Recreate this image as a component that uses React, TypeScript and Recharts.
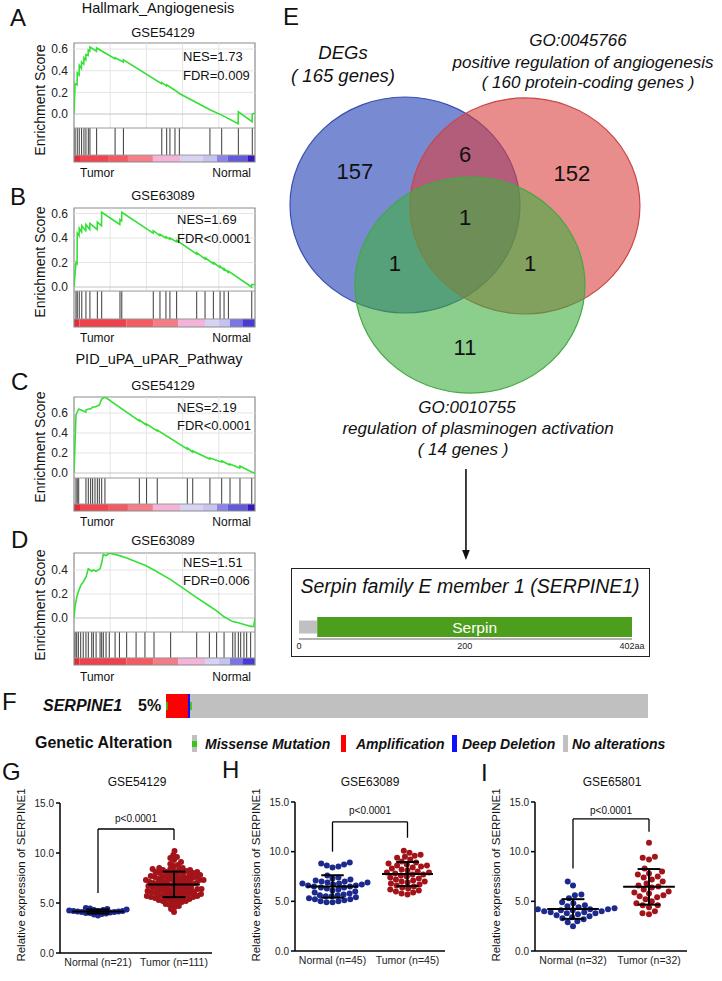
import React from 'react';
import {
  ComposedChart, ScatterChart, Scatter, Line, XAxis, YAxis,
  ReferenceLine, ReferenceArea,
} from 'recharts';

const FONT = '"Liberation Sans", Arial, Helvetica, sans-serif';

// ---------------- GSEA data (rank in % of ranked list, enrichment score) ----------------
const curveA = [[0,0],[0.6,0.28],[1.7,0.27],[1.8,0.38],[2.8,0.36],[2.9,0.45],[4.1,0.42],[4.2,0.48],[5.4,0.46],[5.5,0.52],[6.5,0.50],[6.6,0.55],[7.8,0.54],[7.9,0.59],[8.7,0.58],[8.8,0.62],[12.4,0.58],[12.5,0.61],[22.6,0.51],[22.7,0.52],[27.2,0.48],[27.3,0.50],[48.4,0.28],[48.5,0.29],[51.1,0.26],[51.2,0.27],[53.0,0.25],[55.8,0.22],[58.2,0.19],[75.1,0.04],[81.6,-0.01],[90.7,-0.09],[90.8,0.02],[98.4,-0.07],[98.5,0.0],[100,0.01]];
const hitsA = [0.6,1.8,2.9,4.2,5.5,6.6,7.9,8.8,12.5,22.7,27.3,48.5,51.2,53.0,55.8,58.2,75.1,81.6,90.8,98.5];

const curveB = [[0,0],[1.1,0.20],[1.7,0.19],[1.8,0.44],[2.8,0.42],[2.9,0.48],[4.2,0.45],[4.3,0.50],[6.5,0.46],[6.6,0.51],[8.7,0.47],[8.8,0.52],[12.8,0.47],[12.9,0.53],[15.2,0.50],[15.3,0.61],[25.3,0.51],[25.4,0.55],[26.3,0.54],[26.4,0.61],[43.7,0.44],[43.8,0.46],[47.4,0.42],[47.5,0.43],[50.7,0.40],[50.8,0.41],[52.9,0.39],[53.0,0.40],[56.6,0.37],[56.7,0.38],[67.7,0.27],[67.8,0.28],[72.3,0.23],[72.4,0.24],[76.9,0.19],[77.0,0.20],[80.6,0.16],[80.7,0.17],[82.8,0.14],[82.9,0.15],[85.2,0.12],[85.3,0.13],[98.1,0.0],[98.2,0.02],[100,0.02]];
const hitsB = [1.1,1.8,2.9,4.3,6.6,8.8,12.9,15.3,25.4,26.4,43.8,47.5,50.8,53.0,56.7,67.8,72.4,77.0,80.7,82.9,85.3,98.2];

const curveC = [[0,0],[1.1,0.58],[1.8,0.61],[2.6,0.64],[6.5,0.61],[6.6,0.63],[7.9,0.64],[9.2,0.64],[10.3,0.66],[11.6,0.66],[12.9,0.67],[14.0,0.68],[15.3,0.74],[17.1,0.76],[36.0,0.52],[36.1,0.53],[40.0,0.48],[40.1,0.49],[45.9,0.42],[46.0,0.43],[62.5,0.24],[62.6,0.25],[65.5,0.21],[65.6,0.22],[75.0,0.14],[75.1,0.15],[81.5,0.11],[81.6,0.12],[86.1,0.08],[86.2,0.09],[91.6,0.05],[91.7,0.07],[98.1,0.01],[100,0.0]];
const hitsC = [1.1,1.8,2.6,6.6,7.9,9.2,10.3,11.6,12.9,14.0,15.3,17.1,36.1,40.1,46.0,62.6,65.6,75.1,81.6,86.2,91.7,98.2];

const curveD = [[0,0],[0.6,0.10],[1.5,0.17],[2.4,0.22],[3.7,0.27],[5.1,0.30],[6.6,0.34],[7.9,0.41],[9.8,0.39],[10.7,0.40],[12.2,0.39],[14.4,0.41],[15.3,0.46],[16.2,0.53],[17.7,0.52],[19.5,0.54],[22.7,0.53],[25.1,0.52],[29.1,0.50],[34.3,0.47],[39.2,0.44],[44.2,0.40],[53.4,0.32],[67.8,0.17],[74.8,0.10],[78.8,0.06],[82.9,0.01],[87.7,-0.03],[90.8,-0.04],[95.4,-0.06],[97.6,-0.07],[99.3,-0.07],[100,0.0]];
const hitsD = [0.6,1.5,2.4,3.7,5.1,6.6,7.9,9.8,10.7,12.2,14.4,15.3,16.2,17.7,19.5,22.7,25.1,29.1,34.3,39.2,44.2,53.4,67.8,74.8,78.8,82.9,87.7,89.0,90.8,92.1,93.9,95.4,97.6];

// ranked-list colour bar breaks
const breaks54129 = [0, 3.3, 18.8, 29.8, 43.6, 58.6, 71.3, 79.0, 85.0, 96.1, 100];
const breaks63089 = [0, 3, 29, 44, 57.5, 72.4, 80, 86.2, 93, 100];

const gseaTitles = ['GSE54129', 'GSE63089', 'GSE54129', 'GSE63089'];
const gseaNES = ['NES=1.73', 'NES=1.69', 'NES=2.19', 'NES=1.51'];
const gseaFDR = ['FDR=0.009', 'FDR<0.0001', 'FDR<0.0001', 'FDR=0.006'];
const esTicksABC = [0, 0.2, 0.4, 0.6];
const esTicksD = [0, 0.2, 0.4];

// ---------------- Venn data ----------------
const vennSetNames = ['DEGs', 'GO:0045766', 'GO:0010755'];
const vennCounts = ['157', '6', '152', '1', '1', '1', '11'];

// ---------------- SERPINE1 protein domains (aa) ----------------
const proteinLength = 402;
const domainStarts = [0, 22];
const domainEnds = [22, 402];
const domainNames = ['', 'Serpin'];
const proteinTicks = [0, 200, 402];

// ---------------- Oncoprint (% of samples) ----------------
const altTypes = ['Amplification', 'Deep Deletion', 'No alterations'];
const altStarts = [0, 4.56, 4.98];
const altEnds = [4.56, 4.98, 100];
const mutStarts = [0, 4.98];
const mutEnds = [0.35, 5.35];

// ---------------- Expression (GSE) ----------------
const gNormal = [4.5, 4.45, 4.4, 4.35, 4.3, 4.3, 4.25, 4.2, 4.2, 4.2, 4.15, 4.15, 4.1, 4.1, 4.05, 4.0, 4.0, 3.95, 3.9, 3.85, 3.75];
const gTumor = [10.2, 9.8, 9.6, 9.5, 9.3, 9.1, 8.9, 8.8, 8.7,
  8.5, 8.5, 8.4, 8.4, 8.3, 8.3, 8.3, 8.2, 8.2, 8.1, 8.1, 8.1, 8.0, 8.0, 7.9, 7.9, 7.9, 7.8, 7.8,
  7.7, 7.7, 7.7, 7.6, 7.6, 7.6, 7.5, 7.5, 7.5, 7.4, 7.4, 7.4, 7.3, 7.3, 7.3, 7.2, 7.2, 7.2, 7.1, 7.1, 7.1, 7.0, 7.0, 7.0,
  6.9, 6.9, 6.9, 6.8, 6.8, 6.7, 6.7, 6.7, 6.6, 6.6, 6.6, 6.5, 6.5, 6.5, 6.4, 6.4, 6.4, 6.3, 6.3, 6.3, 6.2, 6.2, 6.2,
  6.1, 6.1, 6.1, 6.0, 6.0, 6.0, 5.9, 5.9, 5.9, 5.8, 5.8, 5.8, 5.7, 5.7, 5.7, 5.6, 5.6, 5.6, 5.5, 5.5, 5.5,
  5.4, 5.4, 5.3, 5.3, 5.2, 5.2, 5.1, 5.1,
  5.0, 4.9, 4.8, 4.7, 4.6, 4.4, 4.1];
const hNormal = [8.9, 8.8, 8.7, 8.6, 8.5, 8.4, 7.6, 7.4, 7.3, 7.2, 7.1, 7.0, 7.0, 6.9, 6.9, 6.8, 6.8, 6.7, 6.7, 6.6, 6.6, 6.5, 6.5, 6.4, 6.4, 6.3, 6.2, 6.1, 6.0, 5.9, 5.8, 5.7, 5.6, 5.6, 5.5, 5.5, 5.4, 5.3, 5.2, 5.1, 5.0, 5.0, 4.9, 4.9, 5.2];
const hTumor = [10.1, 9.9, 9.7, 9.6, 9.5, 9.4, 9.2, 9.0, 8.9, 8.8, 8.7, 8.6, 8.5, 8.4, 8.3, 8.2, 8.1, 8.0, 7.9, 7.8, 7.7, 7.7, 7.6, 7.5, 7.4, 7.3, 7.2, 7.1, 7.0, 6.9, 6.8, 6.7, 6.6, 6.5, 6.4, 6.3, 6.2, 6.1, 6.0, 5.9, 5.8, 5.7, 8.6, 7.9, 7.0];
const iNormal = [7.0, 6.6, 5.7, 5.6, 5.3, 4.9, 4.8, 4.6, 4.5, 4.4, 4.3, 4.3, 4.2, 4.2, 4.2, 4.1, 4.1, 4.0, 4.0, 3.9, 3.9, 3.8, 3.8, 3.7, 3.6, 3.5, 3.4, 3.3, 3.2, 3.0, 2.9, 2.5];
const iTumor = [10.9, 9.5, 9.4, 9.2, 8.3, 8.0, 7.8, 7.7, 7.5, 7.2, 7.0, 6.8, 6.6, 6.5, 6.4, 6.2, 6.0, 5.9, 5.6, 5.4, 5.2, 5.0, 4.8, 4.6, 4.4, 5.5, 5.8, 4.0, 4.6, 3.8, 3.7, 7.4];
const exprTitles = ['GSE54129', 'GSE63089', 'GSE65801'];
const exprLabels = [['Normal (n=21)', 'Tumor (n=111)'], ['Normal (n=45)', 'Tumor (n=45)'], ['Normal (n=32)', 'Tumor (n=32)']];
const exprTicks = [0, 5, 10, 15];
// significance brackets: [top, left leg end, right leg end]
const brackets = [[12.4, 6.0, 11.3], [13.0, 10.0, 11.4], [13.3, 8.3, 12.0]];

// ---------------- styles / layout ----------------
const palette54129 = ['#e22c3a', '#f0444f', '#f35b63', '#f47f86', '#f5b3d7', '#d6d3f3', '#c5c3f0', '#8884e8', '#625ad9', '#3716c2'];
const palette63089 = ['#e22c3a', '#ef414c', '#f35a62', '#f47c84', '#f4b4da', '#d5d2f2', '#c4c2ef', '#7c76e4', '#4a3cd2'];
const NAVY = '#1c2a8e';
const DARKRED = '#a3141a';

const gseaLayout = [
  { curve: curveA, hits: hitsA, breaks: breaks54129, palette: palette54129, ticks: esTicksABC, plotTop: 43, plotH: 119, domain: [-0.443, 0.656], esBottom: -0.129, barTop: -0.379, titleY: 32, nesX: 183, nesY: 56, fdrY: 75, tumorY: 173, ylabY: 100 },
  { curve: curveB, hits: hitsB, breaks: breaks63089, palette: palette63089, ticks: esTicksABC, plotTop: 208, plotH: 119, domain: [-0.3265, 0.645], esBottom: -0.033, barTop: -0.261, titleY: 195, nesX: 177, nesY: 219, fdrY: 238, tumorY: 338, ylabY: 262 },
  { curve: curveC, hits: hitsC, breaks: breaks54129, palette: palette54129, ticks: esTicksABC, plotTop: 397, plotH: 114, domain: [-0.38, 0.76], esBottom: -0.05, barTop: -0.31, titleY: 385, nesX: 177, nesY: 407, fdrY: 425, tumorY: 522, ylabY: 447 },
  { curve: curveD, hits: hitsD, breaks: breaks63089, palette: palette63089, ticks: esTicksD, plotTop: 553, plotH: 112, domain: [-0.392, 0.542], esBottom: -0.117, barTop: -0.333, titleY: 540, nesX: 183, nesY: 562, fdrY: 580, tumorY: 677, ylabY: 605 },
];
const gridX = [20, 40, 60, 80];

type TxtProps = { x: number; y: number; size: number; children: React.ReactNode; anchor?: 'start' | 'middle' | 'end'; weight?: any; italic?: boolean; color?: string; rotate?: boolean };
function Txt({ x, y, size, children, anchor = 'middle', weight, italic, color, rotate }: TxtProps) {
  const tx = anchor === 'middle' ? '-50%' : anchor === 'end' ? '-100%' : '0';
  return (
    <div style={{ position: 'absolute', left: x, top: y, transform: `translate(${tx},-50%)${rotate ? ' rotate(-90deg)' : ''}`, fontSize: size, fontWeight: weight || 'normal', fontStyle: italic ? 'italic' : 'normal', color: color || '#111', whiteSpace: 'nowrap', lineHeight: 1 }}>
      {children}
    </div>
  );
}

function Gsea({ cfg, idx }: { cfg: any; idx: number }) {
  const data = cfg.curve.map((p: number[]) => ({ rank: p[0], es: p[1] }));
  const [dMin, dMax] = cfg.domain;
  return (
    <>
      <Txt x={163} y={cfg.titleY} size={13}>{gseaTitles[idx]}</Txt>
      <div style={{ position: 'absolute', left: 0, top: cfg.plotTop - 5 }}>
        <ComposedChart width={270} height={cfg.plotH + 10} data={data} margin={{ top: 5, right: 15, bottom: 5, left: 0 }}>
          <XAxis dataKey="rank" type="number" domain={[0, 100]} hide allowDataOverflow />
          <YAxis type="number" domain={[dMin, dMax]} ticks={cfg.ticks} tickFormatter={(v: number) => v.toFixed(1)} width={74} axisLine={false} tickLine={false} tickSize={0} tickMargin={6} tick={{ fontSize: 12, fill: '#222' }} allowDataOverflow interval={0} />
          {gridX.map((g) => (
            <ReferenceLine key={'gx' + g} segment={[{ x: g, y: cfg.esBottom }, { x: g, y: dMax }]} stroke="#e4e4e4" strokeWidth={1} />
          ))}
          {cfg.ticks.map((t: number) => (
            <ReferenceLine key={'gy' + t} segment={[{ x: 0, y: t }, { x: 100, y: t }]} stroke={t === 0 ? '#c4c4c4' : '#e4e4e4'} strokeWidth={1} />
          ))}
          {cfg.palette.map((c: string, i: number) => (
            <ReferenceArea key={'cb' + i} x1={cfg.breaks[i]} x2={cfg.breaks[i + 1]} y1={dMin} y2={cfg.barTop} fill={c} fillOpacity={1} stroke="none" />
          ))}
          {cfg.hits.map((h: number, i: number) => (
            <ReferenceLine key={'h' + i} segment={[{ x: h, y: cfg.barTop }, { x: h, y: cfg.esBottom }]} stroke="#3a3a3a" strokeWidth={1} />
          ))}
          <ReferenceLine segment={[{ x: 0, y: cfg.esBottom }, { x: 100, y: cfg.esBottom }]} stroke="#9a9a9a" strokeWidth={1} />
          <ReferenceLine segment={[{ x: 0, y: cfg.barTop }, { x: 100, y: cfg.barTop }]} stroke="#9a9a9a" strokeWidth={1} />
          <Line dataKey="es" type="linear" stroke="#34e034" strokeWidth={1.6} dot={false} isAnimationActive={false} />
          <ReferenceArea x1={0} x2={100} y1={dMin} y2={dMax} fill="none" fillOpacity={0} stroke="#8c8c8c" strokeWidth={1.2} />
        </ComposedChart>
      </div>
      <Txt x={cfg.nesX} y={cfg.nesY} size={13} anchor="start">{gseaNES[idx]}</Txt>
      <Txt x={cfg.nesX} y={cfg.fdrY} size={13} anchor="start">{gseaFDR[idx]}</Txt>
      <Txt x={80} y={cfg.tumorY} size={12} anchor="start">Tumor</Txt>
      <Txt x={251} y={cfg.tumorY} size={12} anchor="end">Normal</Txt>
      <Txt x={40} y={cfg.ylabY} size={14} rotate>Enrichment Score</Txt>
    </>
  );
}

// ---------------- Venn ----------------
const vennCenters = [[0, 0], [1.043, -0.009], [0.565, -0.741]];
const vennFills = ['rgb(30,60,180)', 'rgb(217,63,63)', 'rgb(63,175,63)'];
const vennStrokes = ['#3b4fae', '#c94646', '#45a845'];
const vennCountPos = [[-0.435, 0.306], [0.522, 0.472], [1.452, 0.296], [0.522, -0.12], [-0.087, -0.537], [1.087, -0.537], [0.522, -1.315]];
const VENN = { left: 275, top: 0, w: 440, h: 565, x: [-1.1304, 2.6957], y: [-3.333, 1.898] };

function Venn() {
  const pxX = VENN.w / (VENN.x[1] - VENN.x[0]);
  const pxY = VENN.h / (VENN.y[1] - VENN.y[0]);
  const circles = vennCenters.map((c, i) => ({ x: c[0], y: c[1], name: vennSetNames[i], fill: vennFills[i], stroke: vennStrokes[i] }));
  const counts = vennCountPos.map((c, i) => ({ x: c[0], y: c[1], label: vennCounts[i] }));
  const arrowX = 0.53;
  const arrowHead = [{ x: arrowX, y: -3.287 }];
  return (
    <div style={{ position: 'absolute', left: VENN.left, top: VENN.top }}>
      <ScatterChart width={VENN.w} height={VENN.h} margin={{ top: 0, right: 0, bottom: 0, left: 0 }}>
        <XAxis type="number" dataKey="x" domain={VENN.x} hide allowDataOverflow />
        <YAxis type="number" dataKey="y" domain={VENN.y} hide allowDataOverflow />
        <Scatter data={circles} isAnimationActive={false}
          shape={(p: any) => (
            <ellipse cx={p.cx} cy={p.cy} rx={pxX} ry={pxY} fill={p.payload.fill} fillOpacity={0.6} stroke={p.payload.stroke} strokeWidth={1.2} />
          )} />
        <Scatter data={counts} isAnimationActive={false}
          shape={(p: any) => (
            <text x={p.cx} y={p.cy} textAnchor="middle" dominantBaseline="central" fontSize={22} fill="#111" style={{ fontFamily: FONT }}>{p.payload.label}</text>
          )} />
        <ReferenceLine segment={[{ x: arrowX, y: -2.444 }, { x: arrowX, y: -3.22 }]} stroke="#111" strokeWidth={1.6} />
        <Scatter data={arrowHead} isAnimationActive={false}
          shape={(p: any) => (
            <polygon points={`${p.cx},${p.cy} ${p.cx - 3.8},${p.cy - 10} ${p.cx + 3.8},${p.cy - 10}`} fill="#111" />
          )} />
      </ScatterChart>
    </div>
  );
}

// ---------------- Protein domain ----------------
const PROT = { w: 360, h: 60, mt: 12, mr: 19, mb: 0, ml: 8, axisH: 21, mid: 0.444 };
function Protein() {
  const plotW = PROT.w - PROT.ml - PROT.mr;
  const pxX = plotW / proteinLength;
  const doms = domainStarts.map((s, i) => ({ start: s, end: domainEnds[i], name: domainNames[i], mid: PROT.mid }));
  return (
    <>
      <div style={{ position: 'absolute', left: 291, top: 568, width: 357, height: 87, border: '1.5px solid #222' }} />
      <Txt x={470} y={587} size={19.5} italic>Serpin family E member 1 (SERPINE1)</Txt>
      <div style={{ position: 'absolute', left: 291, top: 600 }}>
        <ScatterChart width={PROT.w} height={PROT.h} margin={{ top: PROT.mt, right: PROT.mr, bottom: PROT.mb, left: PROT.ml }}>
          <XAxis type="number" dataKey="start" domain={[0, proteinLength]} ticks={proteinTicks} interval={0} tickFormatter={(v: number) => (v === proteinLength ? `${v}aa` : `${v}`)} height={PROT.axisH} tickSize={0} tickMargin={4} axisLine={{ stroke: '#999', strokeWidth: 1.5 }} tickLine={false} tick={{ fontSize: 9, fill: '#222' }} allowDataOverflow />
          <YAxis type="number" dataKey="mid" domain={[0, 1]} hide allowDataOverflow />
          <Scatter data={doms} isAnimationActive={false}
            shape={(q: any) => {
              const w = (q.payload.end - q.payload.start) * pxX;
              const h = q.payload.name ? 20 : 13;
              return (
                <g>
                  <rect x={q.cx} y={q.cy - h / 2} width={w} height={h} fill={q.payload.name ? '#4d9e1c' : '#c0c0c0'} />
                  {q.payload.name ? (
                    <text x={q.cx + w / 2} y={q.cy} textAnchor="middle" dominantBaseline="central" fontSize={15.5} fill="#fff" style={{ fontFamily: FONT }}>{q.payload.name}</text>
                  ) : null}
                </g>
              );
            }} />
        </ScatterChart>
      </div>
    </>
  );
}

// ---------------- Oncoprint ----------------
const altColors = ['#ff0000', '#1010ff', '#c0c0c0'];
const ONCO = { left: 166, top: 694, w: 482, h: 24 };
function Oncoprint() {
  const pxX = ONCO.w / 100;
  const segs = altStarts.map((s, i) => ({ start: s, end: altEnds[i], mid: 0.5, color: altColors[i], hFrac: 1 }));
  const muts = mutStarts.map((s, i) => ({ start: s, end: mutEnds[i], mid: 0.5, color: '#39c418', hFrac: 0.34 }));
  const shape = (q: any) => {
    const w = Math.max(1.5, (q.payload.end - q.payload.start) * pxX);
    const h = ONCO.h * q.payload.hFrac;
    return <rect x={q.cx} y={q.cy - h / 2} width={w} height={h} fill={q.payload.color} />;
  };
  return (
    <>
      <Txt x={43} y={706} size={16} weight="bold" italic anchor="start">SERPINE1</Txt>
      <Txt x={138} y={706} size={16} weight="bold" anchor="start">5%</Txt>
      <div style={{ position: 'absolute', left: ONCO.left, top: ONCO.top }}>
        <ScatterChart width={ONCO.w} height={ONCO.h} margin={{ top: 0, right: 0, bottom: 0, left: 0 }}>
          <XAxis type="number" dataKey="start" domain={[0, 100]} hide allowDataOverflow />
          <YAxis type="number" dataKey="mid" domain={[0, 1]} hide allowDataOverflow />
          <Scatter data={segs} isAnimationActive={false} shape={shape} />
          <Scatter data={muts} isAnimationActive={false} shape={shape} />
        </ScatterChart>
      </div>
      <Txt x={35} y={743} size={16} weight="bold" anchor="start">Genetic Alteration</Txt>
      <div style={{ position: 'absolute', left: 192, top: 735, width: 5, height: 17, background: '#c0c0c0' }}>
        <div style={{ position: 'absolute', left: 0, top: 5.5, width: 5, height: 6, background: '#39c418' }} />
      </div>
      <Txt x={205} y={744} size={14} weight="bold" italic anchor="start">Missense Mutation</Txt>
      <div style={{ position: 'absolute', left: 341, top: 735, width: 5, height: 17, background: altColors[0] }} />
      <Txt x={356} y={744} size={14} weight="bold" italic anchor="start">{altTypes[0]}</Txt>
      <div style={{ position: 'absolute', left: 452, top: 735, width: 5, height: 17, background: altColors[1] }} />
      <Txt x={462} y={744} size={14} weight="bold" italic anchor="start">{altTypes[1]}</Txt>
      <div style={{ position: 'absolute', left: 563, top: 735, width: 5, height: 17, background: altColors[2] }} />
      <Txt x={572} y={744} size={14} weight="bold" italic anchor="start">{altTypes[2]}</Txt>
    </>
  );
}

// ---------------- Dot plots ----------------
function swarm(values: number[], center: number, dPx: number, pxX: number, pxY: number) {
  const sorted = [...values].sort((a, b) => a - b);
  const placed: { x: number; y: number }[] = [];
  const out: { x: number; y: number }[] = [];
  sorted.forEach((v, k) => {
    const y = v * pxY;
    const iv: number[][] = [];
    placed.forEach((p) => {
      const dy = Math.abs(p.y - y);
      if (dy < dPx) {
        const w = Math.sqrt(dPx * dPx - dy * dy);
        iv.push([p.x - w, p.x + w]);
      }
    });
    const cands = [0];
    iv.forEach(([a, b]) => cands.push(a, b));
    const sgn = k % 2 === 0 ? 1 : -1;
    cands.sort((a, b) => Math.abs(a) - Math.abs(b) || sgn * (b - a));
    let xo = 0;
    for (const c of cands) {
      if (iv.every(([a, b]) => c <= a + 1e-6 || c >= b - 1e-6)) { xo = c; break; }
    }
    placed.push({ x: xo, y });
    out.push({ x: center + xo / pxX, y: v });
  });
  return out;
}
function meanSd(vals: number[]) {
  const m = vals.reduce((s, v) => s + v, 0) / vals.length;
  const sd = Math.sqrt(vals.reduce((s, v) => s + (v - m) * (v - m), 0) / (vals.length - 1));
  return { m, sd };
}

const dotLayout = [
  { normal: gNormal, tumor: gTumor, left: 0, top: 790, chartH: 191, plotW: 152, plotH: 150, mr: 28, d: 4.2, letter: 'G', letterX: 2, letterY: 772, titleX: 137, pY: 819, ylabX: 22 },
  { normal: hNormal, tumor: hTumor, left: 235, top: 789, chartH: 190, plotW: 150, plotH: 149, mr: 30, d: 6.0, letter: 'H', letterX: 222, letterY: 770, titleX: 370, pY: 811, ylabX: 257 },
  { normal: iNormal, tumor: iTumor, left: 475, top: 789, chartH: 190, plotW: 152, plotH: 149, mr: 28, d: 6.6, letter: 'I', letterX: 481, letterY: 773, titleX: 612, pY: 811, ylabX: 497 },
];

function DotPanel({ p, idx }: { p: any; idx: number }) {
  const pxX = p.plotW / 2;
  const pxY = p.plotH / 15;
  const nPts = swarm(p.normal, 1, p.d, pxX, pxY);
  const tPts = swarm(p.tumor, 2, p.d, pxX, pxY);
  const sN = meanSd(p.normal);
  const sT = meanSd(p.tumor);
  const stats = [{ x: 1, y: sN.m, sd: sN.sd }, { x: 2, y: sT.m, sd: sT.sd }];
  const [bt, bl, br] = brackets[idx];
  const dot = (fill: string) => (q: any) => <circle cx={q.cx} cy={q.cy} r={3} fill={fill} />;
  const bracketMid = p.left + 60 + pxX * 1;
  return (
    <>
      <Txt x={p.letterX} y={p.letterY} size={24} anchor="start">{p.letter}</Txt>
      <Txt x={p.titleX} y={782} size={12}>{exprTitles[idx]}</Txt>
      <Txt x={bracketMid} y={p.pY} size={10}>p&lt;0.0001</Txt>
      <Txt x={p.ylabX} y={875} size={11.5} rotate>Relative expression of SERPINE1</Txt>
      <div style={{ position: 'absolute', left: p.left, top: p.top }}>
        <ScatterChart width={240} height={p.chartH} margin={{ top: 13, right: p.mr, bottom: 0, left: 0 }}>
          <XAxis type="number" dataKey="x" domain={[0.5, 2.5]} ticks={[1, 2]} interval={0} tickFormatter={(v: number) => exprLabels[idx][v === 1 ? 0 : 1]} height={28} tickSize={0} tickMargin={6} axisLine={{ stroke: '#000', strokeWidth: 1.5 }} tickLine={false} tick={{ fontSize: 10.5, fill: '#222' }} allowDataOverflow />
          <YAxis type="number" dataKey="y" domain={[0, 15]} ticks={exprTicks} interval={0} tickFormatter={(v: number) => v.toFixed(1)} width={60} tickSize={4} tickMargin={2} axisLine={{ stroke: '#000', strokeWidth: 1.5 }} tickLine={{ stroke: '#000', strokeWidth: 1.5 }} tick={{ fontSize: 10, fill: '#222' }} allowDataOverflow />
          <ReferenceLine segment={[{ x: 1, y: bl }, { x: 1, y: bt }]} stroke="#000" strokeWidth={1.3} />
          <ReferenceLine segment={[{ x: 1, y: bt }, { x: 2, y: bt }]} stroke="#000" strokeWidth={1.3} />
          <ReferenceLine segment={[{ x: 2, y: bt }, { x: 2, y: br }]} stroke="#000" strokeWidth={1.3} />
          <Scatter data={nPts} fill={NAVY} isAnimationActive={false} shape={dot(NAVY)} />
          <Scatter data={tPts} fill={DARKRED} isAnimationActive={false} shape={dot(DARKRED)} />
          <Scatter data={stats} isAnimationActive={false}
            shape={(q: any) => {
              const h = 0.34 * pxX;
              const c = 0.15 * pxX;
              const s = q.payload.sd * pxY;
              return (
                <g stroke="#000" strokeWidth={2}>
                  <line x1={q.cx - h} x2={q.cx + h} y1={q.cy} y2={q.cy} />
                  <line x1={q.cx} x2={q.cx} y1={q.cy - s} y2={q.cy + s} />
                  <line x1={q.cx - c} x2={q.cx + c} y1={q.cy - s} y2={q.cy - s} />
                  <line x1={q.cx - c} x2={q.cx + c} y1={q.cy + s} y2={q.cy + s} />
                </g>
              );
            }} />
        </ScatterChart>
      </div>
    </>
  );
}

export default function App() {
  return (
    <div style={{ position: 'absolute', left: 0, top: 0, width: 722, height: 981, background: '#fff', fontFamily: FONT, color: '#111', overflow: 'hidden' }}>
      {/* panel letters */}
      <Txt x={10} y={18} size={24} anchor="start">A</Txt>
      <Txt x={10} y={197} size={24} anchor="start">B</Txt>
      <Txt x={11} y={382} size={24} anchor="start">C</Txt>
      <Txt x={11} y={540} size={24} anchor="start">D</Txt>
      <Txt x={283} y={17} size={24} anchor="start">E</Txt>
      <Txt x={2} y={702} size={24} anchor="start">F</Txt>

      <Txt x={158} y={8} size={14.5}>Hallmark_Angiogenesis</Txt>
      <Txt x={159} y={359} size={14.5}>PID_uPA_uPAR_Pathway</Txt>
      {gseaLayout.map((cfg, i) => <Gsea key={i} cfg={cfg} idx={i} />)}

      <Venn />
      <Txt x={343} y={53} size={18.5} italic>DEGs</Txt>
      <Txt x={343} y={76} size={18.5} italic>( 165 genes)</Txt>
      <Txt x={578} y={40} size={17} italic>GO:0045766</Txt>
      <Txt x={583} y={62} size={17} italic>positive regulation of angiogenesis</Txt>
      <Txt x={588} y={82} size={17} italic>( 160 protein-coding genes )</Txt>
      <Txt x={467} y={407} size={17} italic>GO:0010755</Txt>
      <Txt x={478} y={428} size={17} italic>regulation of plasminogen activation</Txt>
      <Txt x={463} y={449} size={17} italic>( 14 genes )</Txt>

      <Protein />
      <Oncoprint />
      {dotLayout.map((p, i) => <DotPanel key={i} p={p} idx={i} />)}
    </div>
  );
}
